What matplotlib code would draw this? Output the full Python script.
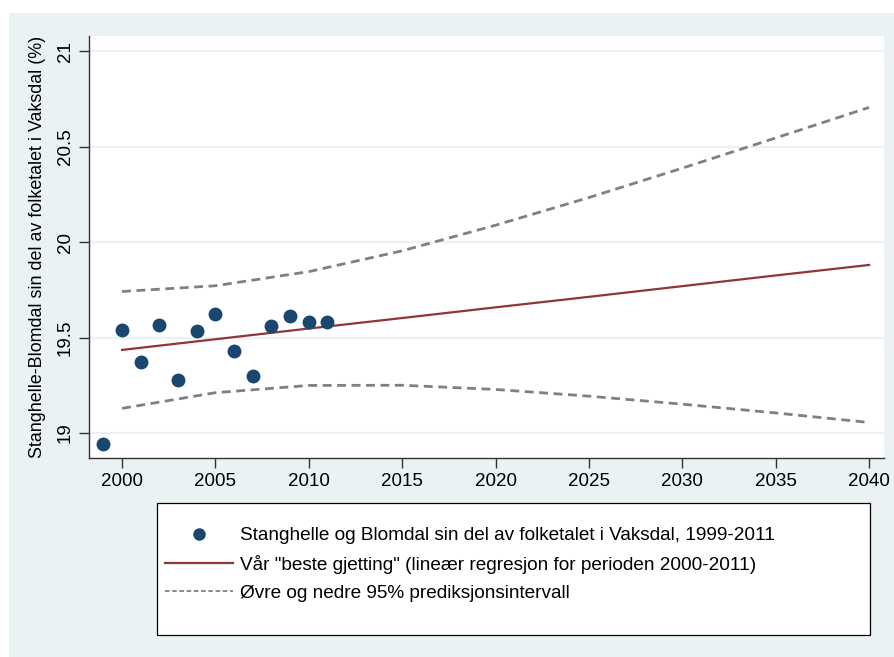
import matplotlib
matplotlib.use("Agg")
import matplotlib.pyplot as plt
from matplotlib.patches import Rectangle
from matplotlib.lines import Line2D

plt.rcParams["font.family"] = ["Liberation Sans", "DejaVu Sans"]

# observed share (%) 1999-2011
years = [1999, 2000, 2001, 2002, 2003, 2004, 2005, 2006, 2007, 2008, 2009, 2010, 2011]
share = [18.944, 19.538, 19.370, 19.565, 19.276, 19.534, 19.621, 19.431, 19.298,
         19.560, 19.614, 19.580, 19.581]

# regression line and 95% prediction interval
pred_years = [2000, 2005, 2010, 2015, 2020, 2025, 2030, 2035, 2040]
fit = [19.435, 19.491, 19.547, 19.602, 19.658, 19.713, 19.769, 19.825, 19.880]
upper = [19.741, 19.771, 19.845, 19.954, 20.088, 20.233, 20.387, 20.545, 20.705]
lower = [19.129, 19.211, 19.249, 19.250, 19.228, 19.193, 19.151, 19.105, 19.055]

xticks = [2000, 2005, 2010, 2015, 2020, 2025, 2030, 2035, 2040]
yticks = [19, 19.5, 20, 20.5, 21]
ytick_labels = ["19", "19.5", "20", "20.5", "21"]

labels = ["Stanghelle og Blomdal sin del av folketalet i Vaksdal, 1999-2011",
          'Vår "beste gjetting" (lineær regresjon for perioden 2000-2011)',
          "Øvre og nedre 95% prediksjonsintervall"]

navy = "#1a476f"
red = "#90353b"
grey = "#808080"
bg = "#eaf2f3"

W, H = 894, 657
fig = plt.figure(figsize=(W / 100, H / 100), dpi=100, facecolor="white")
# Stata-like outer background, white strip at top and left
fig.patches.append(Rectangle((9 / W, 0), 1 - 9 / W, 1 - 13 / H, transform=fig.transFigure,
                             facecolor=bg, edgecolor="none", zorder=-10))

ax = fig.add_axes([89 / W, 1 - 458 / H, (884 - 89) / W, (458 - 36) / H])
ax.set_facecolor("white")

for y in yticks:
    ax.axhline(y, color=bg, lw=1.6, zorder=0)

dash = (0, (3.2, 2.0))
ax.plot(pred_years, upper, color=grey, lw=2.0, linestyle=dash, zorder=2)
ax.plot(pred_years, lower, color=grey, lw=2.0, linestyle=dash, zorder=2)
ax.plot(pred_years, fit, color=red, lw=1.6, zorder=3)
ax.plot(years, share, "o", color=navy, markersize=10, markeredgewidth=0, zorder=4)

ax.set_xlim(1998.23, 2040.8)
ax.set_ylim(18.869, 21.079)
ax.set_xticks(xticks)
ax.set_yticks(yticks)
ax.set_yticklabels(ytick_labels, rotation=90, va="center")
ax.tick_params(axis="both", length=7, width=1, color="#333333", labelsize=13.5, pad=4)

for side in ["top", "right"]:
    ax.spines[side].set_visible(False)
for side in ["left", "bottom"]:
    ax.spines[side].set_color("#333333")
    ax.spines[side].set_linewidth(1)

ax.set_ylabel("Stanghelle-Blomdal sin del av folketalet i Vaksdal (%)", fontsize=12.9)
ax.yaxis.set_label_coords(-43 / (884 - 89), 0.5)

# legend box
fig.patches.append(Rectangle((157 / W, 1 - 635 / H), (870 - 157) / W, (635 - 503) / H,
                             transform=fig.transFigure, facecolor="white",
                             edgecolor="black", lw=0.9, zorder=1))
handles = [Line2D([], [], marker="o", color=navy, linestyle="none", markersize=9, markeredgewidth=0),
           Line2D([], [], color=red, lw=1.6),
           Line2D([], [], color=grey, lw=1.3, linestyle=(0, (2.5, 1.5)))]
leg = fig.legend(handles, labels, loc="upper left", bbox_to_anchor=(165 / W, 1 - 527 / H),
                 frameon=False, fontsize=13.7, handlelength=3.58, handletextpad=0.36,
                 labelspacing=0.55, borderaxespad=0, borderpad=0)
leg.set_zorder(2)

fig.savefig("out.png", dpi=100, facecolor="white")
